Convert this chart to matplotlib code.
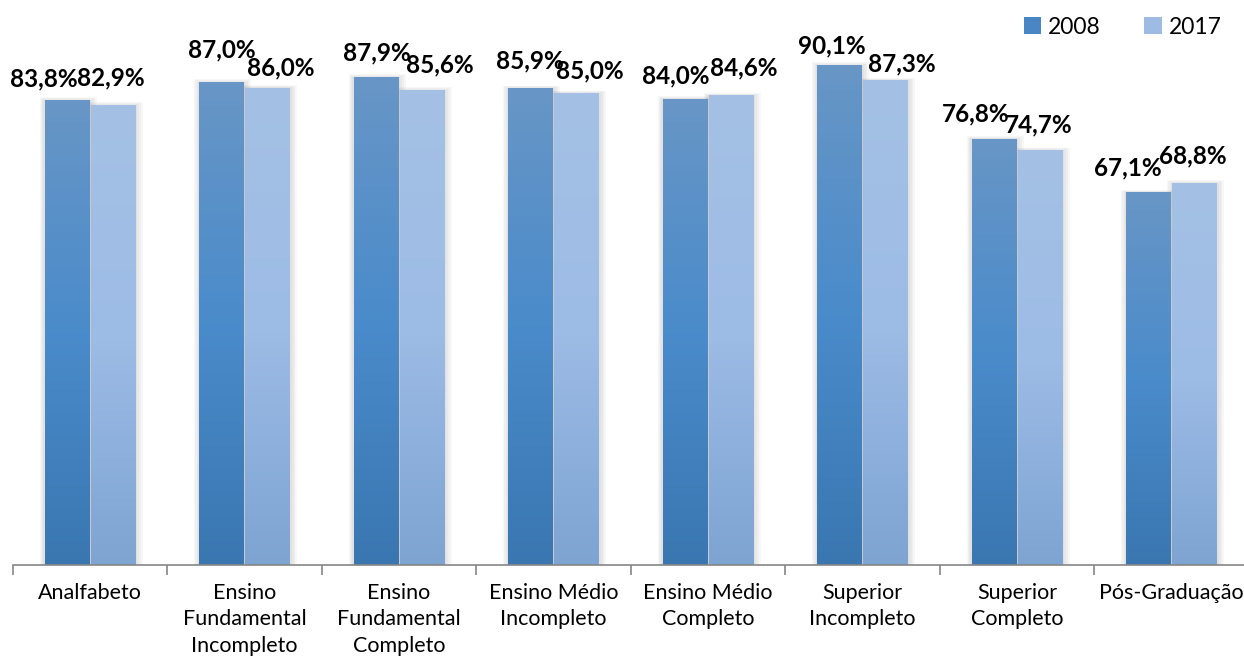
import numpy as np
import matplotlib
matplotlib.use("Agg")
import matplotlib.pyplot as plt
from matplotlib.colors import LinearSegmentedColormap
from matplotlib.patches import Rectangle, Patch

categories = ["Analfabeto", "Ensino\nFundamental\nIncompleto", "Ensino\nFundamental\nCompleto",
              "Ensino Médio\nIncompleto", "Ensino Médio\nCompleto", "Superior\nIncompleto",
              "Superior\nCompleto", "Pós-Graduação"]
series_names = ["2008", "2017"]
vals_2008 = [83.8, 87.0, 87.9, 85.9, 84.0, 90.1, 76.8, 67.1]
vals_2017 = [82.9, 86.0, 85.6, 85.0, 84.6, 87.3, 74.7, 68.8]

# label nudges in pixels (the labels were moved by hand in the source chart)
off_2008 = [(-24, 21), (0, 33), (0, 25), (-1, 28), (-10, 23), (-8, 20), (-19, 25), (-21, 25)]
off_2017 = [(-2, 27), (14, 20), (18, 25), (14, 23), (13, 28), (17, 17), (-1, 26), (-1, 28)]

FONT = "Lato"
W, H, DPI = 1244, 662, 100
CAT_PX = 154.5
BAR_W = 45 / CAT_PX

cmap_08 = LinearSegmentedColormap.from_list("c08", ["#3a77b1", "#4a8bcb", "#6896c6"])
cmap_17 = LinearSegmentedColormap.from_list("c17", ["#7ea4d2", "#9dbce6", "#a4c0e4"])
grad = np.linspace(0, 1, 256).reshape(-1, 1)

fig = plt.figure(figsize=(W / DPI, H / DPI), dpi=DPI)
ax = fig.add_axes([12.75 / W, 97 / H, 1236 / W, 565 / H])

x = np.arange(len(categories))
px = 1 / CAT_PX  # one pixel in x data units
py = 101.9 / 565  # one pixel in y data units

for vals, offs, cmap, sign in [(vals_2008, off_2008, cmap_08, -1), (vals_2017, off_2017, cmap_17, 1)]:
    for xi, v, (dx, dy) in zip(x, vals, offs):
        x0 = xi + (0.5 * sign - 0.5) * BAR_W + sign * 0.5 * px
        x1 = x0 + BAR_W
        # soft shadow, a bit heavier on the right
        for k in range(1, 5):
            ax.add_patch(Rectangle((x0 - k * 1.2 * px, 0), BAR_W + k * 3.0 * px, v + k * 0.8 * py,
                                   color="#7a7a7a", alpha=0.06, lw=0, zorder=1))
        ax.imshow(grad, cmap=cmap, origin="lower", extent=[x0, x1, 0, v],
                  aspect="auto", zorder=3, interpolation="bilinear")
        ax.annotate(f"{v:.1f}%".replace(".", ","), (xi + sign * BAR_W / 2, v),
                    xytext=(dx, dy), textcoords="offset pixels", ha="center", va="center",
                    fontsize=17.5, fontweight="bold", family=FONT, color="black", zorder=5)

ax.set_xlim(-0.5, len(categories) - 0.5)
ax.set_ylim(0, 101.9)
for s in ["top", "right", "left"]:
    ax.spines[s].set_visible(False)
ax.spines["bottom"].set_color("#868686")
ax.spines["bottom"].set_linewidth(1.2)
ax.spines["bottom"].set_zorder(4)
ax.set_yticks([])
ax.set_xticks(np.arange(-0.5, len(categories)), minor=False)
ax.set_xticklabels([])
ax.tick_params(axis="x", which="major", length=7, color="#868686", width=1.2)
ax.set_xticks(x, minor=True)
ax.set_xticklabels(categories, minor=True, fontsize=15.5, family=FONT, linespacing=1.4)
ax.tick_params(axis="x", which="minor", length=0, pad=13)

handles = [Patch(facecolor="#4a86c4"), Patch(facecolor="#9dbbe3")]
fig.legend(handles, series_names, ncol=2, loc="upper right", bbox_to_anchor=(1242 / W, 1 + 4 / H),
           frameon=False, prop={"family": FONT, "size": 16.5},
           handlelength=0.75, handleheight=0.75, handletextpad=0.3, columnspacing=1.9)

fig.savefig("out.png", dpi=DPI)
